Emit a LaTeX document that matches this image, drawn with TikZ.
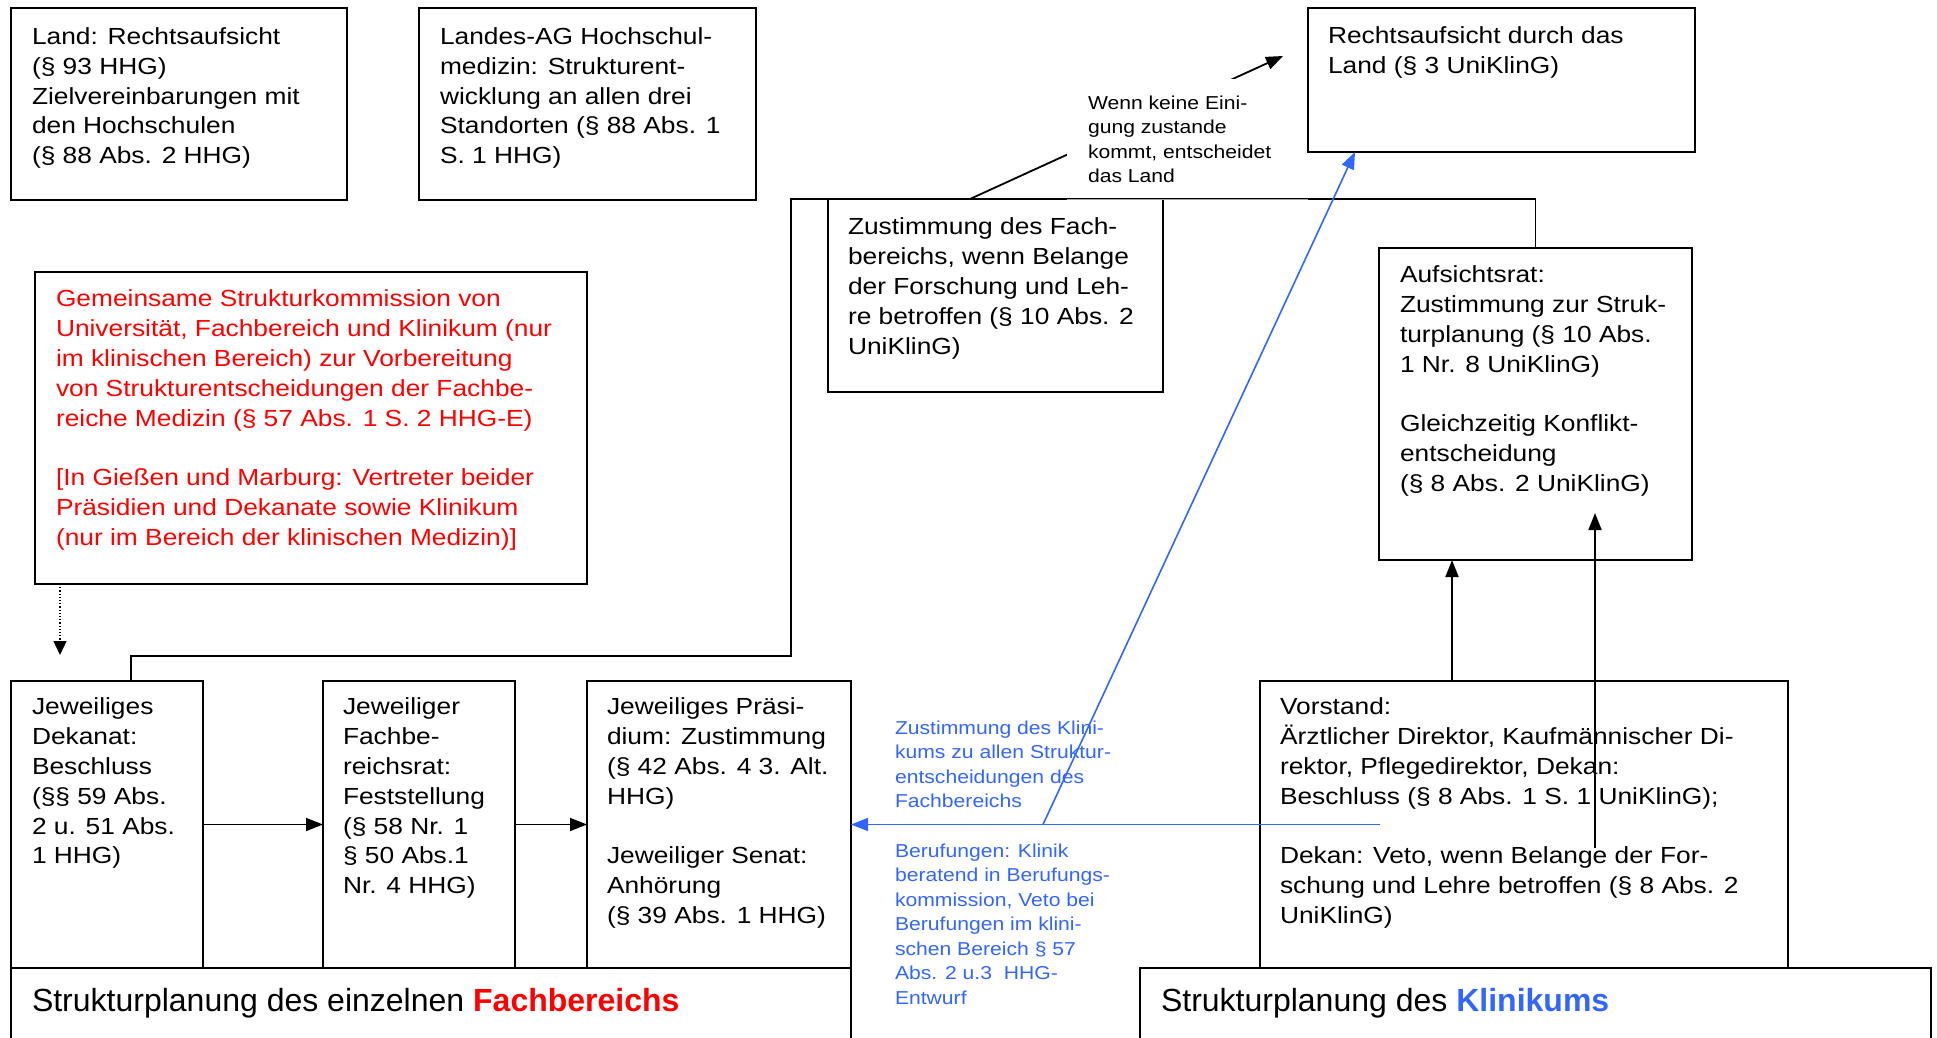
\documentclass[tikz,border=0pt]{standalone}
\usepackage{fontspec}
\setmainfont{Liberation Sans}
\newfontfamily\stretchfont[FakeStretch=1.13]{Liberation Sans}
\usetikzlibrary{arrows.meta,calc}
\definecolor{kblue}{RGB}{51,102,255}
\definecolor{kred}{RGB}{255,0,0}
\tikzset{
  box/.style={draw=black, line width=2pt, inner sep=0pt, outer sep=0pt, anchor=north west},
  txt/.style={anchor=north west, inner sep=0pt, outer sep=0pt, align=left, font=\stretchfont\fontsize{23.3}{29.8}\selectfont},
  smalltxt/.style={anchor=north west, inner sep=0pt, outer sep=0pt, align=left, font=\stretchfont\fontsize{18.7}{24.5}\selectfont},
  head/.style={anchor=base west, inner sep=0pt, outer sep=0pt, font=\fontsize{32}{38}\selectfont},
  conn/.style={line width=1.8pt, draw=black},
  blueline/.style={line width=1.6pt, draw=kblue},
  tip/.style={-{Triangle[length=17pt,width=13pt]}},
}
\newcommand\rbox[5]{\node[box, minimum width={#4-#2}, minimum height={#5-#3}] (#1) at (#2,#3) {};}
\begin{document}
\begin{tikzpicture}[x=1pt,y=-1pt]
\fill[white] (0,0) rectangle (1937,1038);
\useasboundingbox (0,0) rectangle (1937,1038);

% boxes
\rbox{la}{11}{8}{347}{200}
\rbox{ag}{419}{8}{756}{200}
\rbox{rc}{1308}{8}{1695}{152}
\rbox{zf}{828}{199}{1163}{392}
\rbox{auf}{1379}{248}{1692}{560}
\rbox{gk}{35}{272}{587}{584}
\rbox{dek}{11}{681}{203}{968}
\rbox{fbr}{323}{681}{515}{968}
\rbox{pra}{587}{681}{851}{968}
\rbox{vor}{1260}{681}{1788}{968}
\rbox{hf}{11}{968}{851}{1060}
\rbox{hk}{1140}{968}{1931}{1060}

% texts
\node[txt] (la-t) at (32,23.6) {\strut Land: Rechtsaufsicht\\(§ 93 HHG)\\Zielvereinbarungen mit\\den Hochschulen\\(§ 88 Abs. 2 HHG)};
\node[txt] (ag-t) at (440,23.6) {\strut Landes-AG Hochschul-\\medizin: Strukturent-\\wicklung an allen drei\\Standorten (§ 88 Abs. 1\\S. 1 HHG)};
\node[txt] (rc-t) at (1328,22.6) {\strut Rechtsaufsicht durch das\\Land (§ 3 UniKlinG)};
\node[txt] (zf-t) at (848,214.1) {\strut Zustimmung des Fach-\\bereichs, wenn Belange\\der Forschung und Leh-\\re betroffen (§ 10 Abs. 2\\UniKlinG)};
\node[txt] (auf-t) at (1400,262.1) {\strut Aufsichtsrat:\\Zustimmung zur Struk-\\turplanung (§ 10 Abs.\\1 Nr. 8 UniKlinG)\\[29.8pt]Gleichzeitig Konflikt-\\entscheidung\\(§ 8 Abs. 2 UniKlinG)};
\node[txt, text=kred] (gk-t) at (56,286.1) {\strut Gemeinsame Strukturkommission von\\Universität, Fachbereich und Klinikum (nur\\im klinischen Bereich) zur Vorbereitung\\von Strukturentscheidungen der Fachbe-\\reiche Medizin (§ 57 Abs. 1 S. 2 HHG-E)\\[29.8pt]{[}In Gießen und Marburg: Vertreter beider\\Präsidien und Dekanate sowie Klinikum\\(nur im Bereich der klinischen Medizin){]}};
\node[txt] (dek-t) at (32,694.1) {\strut Jeweiliges\\Dekanat:\\Beschluss\\(§§ 59 Abs.\\2 u. 51 Abs.\\1 HHG)};
\node[txt] (fbr-t) at (343,694.1) {\strut Jeweiliger\\Fachbe-\\reichsrat:\\Feststellung\\(§ 58 Nr. 1\\§ 50 Abs.1\\Nr. 4 HHG)};
\node[txt] (pra-t) at (607,694.1) {\strut Jeweiliges Präsi-\\dium: Zustimmung\\(§ 42 Abs. 4 3. Alt.\\HHG)\\[29.8pt]Jeweiliger Senat:\\Anhörung\\(§ 39 Abs. 1 HHG)};
\node[txt] (vor-t) at (1280,694.1) {\strut Vorstand:\\Ärztlicher Direktor, Kaufmännischer Di-\\rektor, Pflegedirektor, Dekan:\\Beschluss (§ 8 Abs. 1 S. 1 UniKlinG);\\[29.8pt]Dekan: Veto, wenn Belange der For-\\schung und Lehre betroffen (§ 8 Abs. 2\\UniKlinG)};
\node[head] (hf-t) at (32,1011) {Strukturplanung des einzelnen \textcolor{kred}{\textbf{Fachbereichs}}};
\node[head] (hk-t) at (1161,1011) {Strukturplanung des \textcolor{kblue}{\textbf{Klinikums}}};
\node[smalltxt, text=kblue] (bz-t) at (895,716.9) {\strut Zustimmung des Klini-\\kums zu allen Struktur-\\entscheidungen des\\Fachbereichs};
\node[smalltxt, text=kblue] (bb-t) at (895,839.9) {\strut Berufungen: Klinik\\beratend in Berufungs-\\kommission, Veto bei\\Berufungen im klini-\\schen Bereich § 57\\Abs. 2 u.3\ \ HHG-\\Entwurf};

% connectors
\draw[conn] ($(dek.north west)+(120,0)$) -- ++(0,-25) -| (791,199) -| (auf.north);
\draw[conn,tip] (dek.east) -- (fbr.west);
\draw[conn,tip] (fbr.east) -- (pra.west);
\draw[conn,tip] ($(vor.north west)+(192,0)$) coordinate (v1) -- (v1 |- auf.south);
\coordinate (v2) at (1595,848);
\coordinate (a2) at (1595,513);
\draw[conn,tip] (v2) -- (a2);
\coordinate (d2) at (60,655);
\draw[line width=1.2pt, dotted, -{Triangle[length=14pt,width=13pt]}] ($(gk.south west)+(25,0)$) -- (d2);
\coordinate (w0) at (970,199);
\coordinate (w1) at (1283,56);
\draw[conn,tip] (w0) -- (w1);

% label of the decision arrow
\fill[white] (1067,79) rectangle (1306,198);
\draw[gray!70, line width=0.8pt] (1067,199) -- (1308,199);
\node[smalltxt] (wk-t) at (1088,91.9) {\strut Wenn keine Eini-\\gung zustande\\kommt, entscheidet\\das Land};

% blue connectors
\coordinate (bs) at (1380,824.5);
\coordinate (bm) at (1043,824.5);
\draw[blueline,tip] (bs) -- (pra.east);
\draw[blueline,tip] (bm) -- ($(rc.south west)+(47,0)$);
\end{tikzpicture}
\end{document}
